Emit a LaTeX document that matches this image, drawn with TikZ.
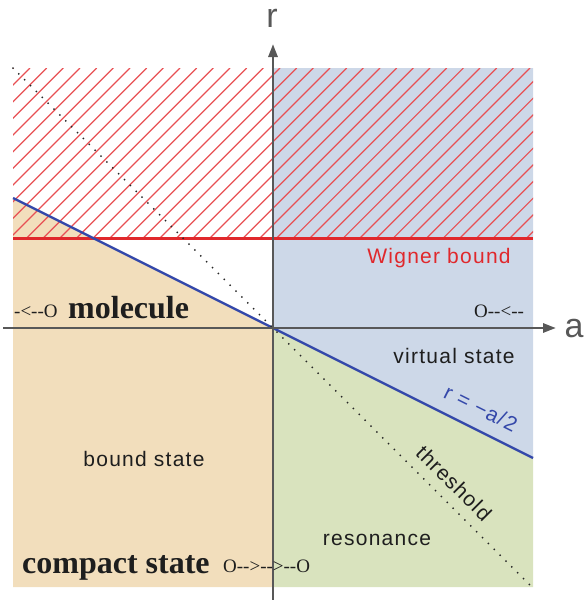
\documentclass[tikz,border=0pt]{standalone}
\usepackage{fontspec}
\setmainfont{Liberation Serif}
\newfontfamily\lab[LetterSpace=6]{Liberation Sans}
\newfontfamily\axl{Liberation Sans}
\newfontfamily\ser{Liberation Serif}
\usetikzlibrary{arrows.meta}
\definecolor{orangefill}{RGB}{242,222,188}
\definecolor{bluefill}{RGB}{205,216,232}
\definecolor{greenfill}{RGB}{217,227,190}
\definecolor{hatchred}{RGB}{232,80,84}
\definecolor{wignerred}{RGB}{224,40,44}
\definecolor{lineblue}{RGB}{52,72,170}
\definecolor{axisgray}{RGB}{88,88,88}
\definecolor{txt}{RGB}{30,30,30}
\begin{document}
\begin{tikzpicture}[x=1pt,y=-1pt,
  hatch/.style={hatchred,line width=1.2pt},
  wigner/.style={wignerred,line width=3pt},
  rline/.style={lineblue,line width=2.4pt},
  thr/.style={black!85,line width=2pt,line cap=round,dash pattern=on 0pt off 8.3pt},
  axis/.style={axisgray,line width=2.8pt,-{Stealth[length=13pt,width=9pt,inset=0pt]}},
  sanslab/.style={inner sep=0pt,anchor=base,font=\lab\fontsize{21}{25}\selectfont,text=txt},
  axlab/.style={inner sep=0pt,anchor=base,text height=18pt,text depth=0pt,font=\axl\fontsize{34}{40}\selectfont,text=axisgray},
  boldlab/.style={inner sep=0pt,anchor=base west,font=\ser\bfseries\fontsize{32}{36}\selectfont,text=txt},
  arrlab/.style={inner sep=0pt,anchor=base west,font=\ser\fontsize{19}{22}\selectfont,text=txt}]
\useasboundingbox (0,0) rectangle (585,600);
% key points
\coordinate (O) at (273,328);
\coordinate (TL) at (13,68);
\coordinate (TR) at (533,68);
\coordinate (BL) at (13,587);
\coordinate (BR) at (533,587);
\coordinate (RL) at (13,198);
\coordinate (RR) at (533,458);
\coordinate (WL) at (13,238);
\coordinate (WR) at (533,238);
\coordinate (TE) at (530,585);
\coordinate (Vb) at (273,600);
\coordinate (Vt) at (273,44);
\coordinate (Hl) at (3,328);
\coordinate (Hr) at (556,328);
% fills
\fill[orangefill] (RL) -- (O) -- (273,587) -- (BL) -- cycle;
\fill[bluefill] (273,68) -- (TR) -- (RR) -- (O) -- cycle;
\fill[greenfill] (O) -- (RR) -- (BR) -- (273,587) -- cycle;
% hatching
\begin{scope}
\clip (TL) rectangle (WR);
\foreach \k in {-2,...,42} \draw[hatch] ({30+16.667*\k},68) -- ++(-200,200);
\end{scope}
% lines
\draw[wigner] (WL) -- (WR);
\draw[rline] (RL) -- (RR);
\draw[thr] (TL) -- (TE);
% axes
\draw[axis] (Vb) -- (Vt);
\draw[axis] (Hl) -- (Hr);
\node[axlab] (rlab) at (272,27) {r};
\node[axlab] (alab) at (574,337) {a};
% labels
\node[sanslab,text=wignerred] (wig) at (439,263) {Wigner bound};
\node[sanslab] (virt) at (454,363) {virtual state};
\node[sanslab] (bound) at (144,466) {bound state};
\node[sanslab] (reso) at (377,545) {resonance};
\node[sanslab,anchor=center,rotate=-45] (thres) at (454,483) {threshold};
\node[sanslab,anchor=center,rotate=-26.57,text=lineblue] (req) at (481,408) {r = −a/2};
\node[boldlab] (mol) at (68,318) {molecule};
\node[boldlab] (comp) at (22,573) {compact state};
\node[arrlab] (a1) at (14,317) {-{}<-{}-O};
\node[arrlab] (a2) at (474,317) {O-{}-<-{}-};
\node[arrlab] (a3) at (223,572) {O-{}->-{}->-{}-O};
\end{tikzpicture}
\end{document}
